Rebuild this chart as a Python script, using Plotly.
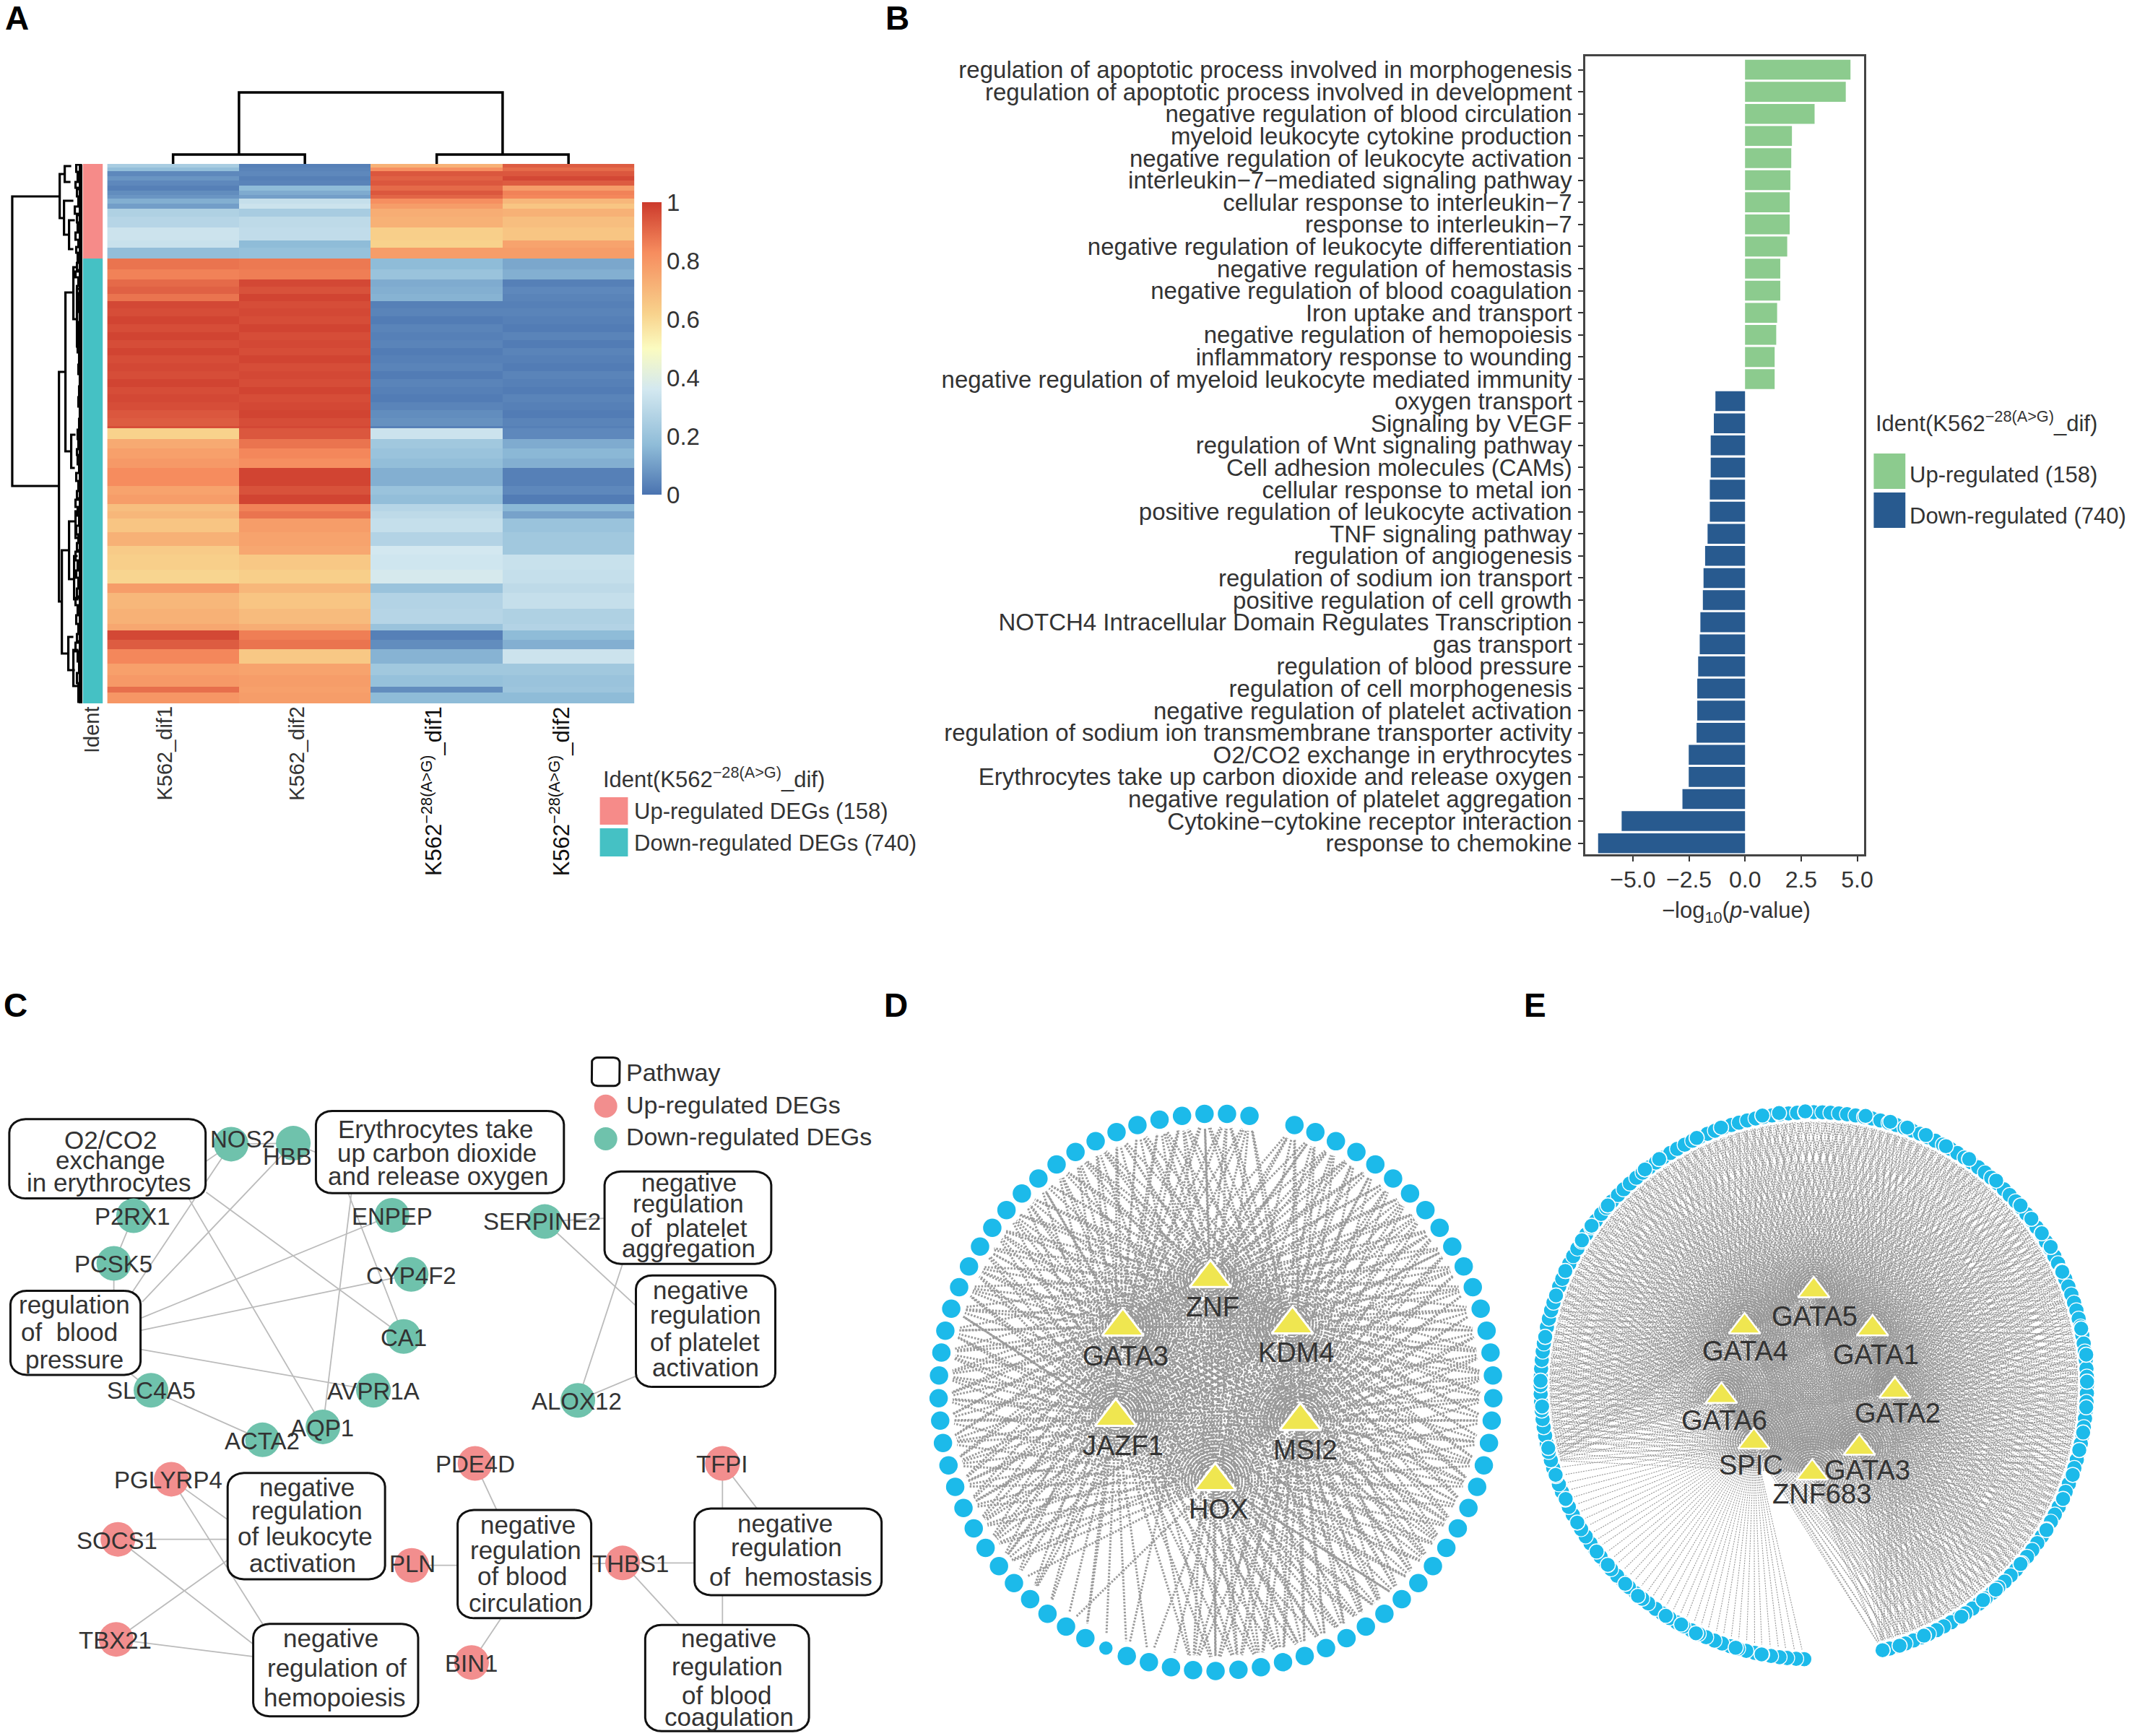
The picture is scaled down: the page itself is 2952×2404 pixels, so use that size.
import numpy as np
import plotly.graph_objects as go

W, H = 2952, 2404
FONT = "Liberation Sans"
TXT = "#333333"

# ---------- Panel A: heatmap ----------
SAMPLES = ["K562_dif1", "K562_dif2", "K562<sup>−28(A&gt;G)</sup>_dif1", "K562<sup>−28(A&gt;G)</sup>_dif2"]
HEAT_ROWS = [6,6,8,8,8,8,8,6,8,8,14,18,22,12,18,
             17,17,12,12,12,13,13,13,13,13,13,13,13,13,13,13,13,13,13,13,13,4,
             18,16,16,16,30,15,15,12,12,23,23,14,26,22,16,26,26,10,16,16,24,19,19,10,18]
HEAT_C1 = [.24,.18,.05,.08,.05,.03,.06,.08,.14,.10,.26,.28,.34,.33,.18,
           .88,.85,.90,.92,.88,.97,.96,.98,.96,.98,.96,.98,.96,.97,.96,.98,.96,.97,.96,.94,.93,.96,
           .62,.74,.77,.79,.83,.76,.78,.68,.70,.66,.72,.64,.63,.61,.78,.70,.72,.75,.97,.93,.84,.77,.79,.89,.80]
HEAT_C2 = [.03,.04,.05,.03,.04,.17,.13,.10,.32,.34,.24,.30,.31,.17,.19,
           .87,.86,.97,.95,.98,.96,.97,.96,.98,.96,.97,.96,.98,.96,.97,.96,.98,.96,.97,.98,.96,.97,
           .94,.88,.84,.82,.98,.95,.98,.85,.88,.78,.76,.75,.65,.63,.70,.66,.69,.73,.86,.88,.65,.76,.78,.77,.78]
HEAT_C3 = [.72,.82,.94,.92,.94,.90,.94,.91,.82,.78,.73,.72,.63,.62,.78,
           .17,.20,.13,.14,.15,.03,.04,.02,.04,.03,.04,.02,.03,.04,.02,.04,.03,.02,.04,.06,.07,.03,
           .34,.22,.20,.18,.14,.20,.18,.28,.30,.32,.27,.36,.35,.37,.20,.27,.28,.20,.03,.06,.15,.22,.19,.06,.17]
HEAT_C4 = [.93,.90,.94,.97,.93,.78,.85,.84,.70,.66,.72,.68,.66,.76,.78,
           .12,.14,.03,.05,.04,.03,.04,.03,.02,.04,.02,.04,.03,.02,.04,.03,.02,.04,.03,.02,.04,.03,
           .05,.13,.16,.14,.03,.05,.02,.16,.11,.20,.22,.22,.33,.32,.30,.32,.26,.27,.17,.14,.34,.22,.20,.21,.17]
HEAT_TICKS = [0, 0.2, 0.4, 0.6, 0.8, 1]
HEAT_TICK_LABELS = ["0", "0.2", "0.4", "0.6", "0.8", "1"]
HEAT_COLORS = [[0, "#4a73b0"], [.17, "#8fbcd8"], [.36, "#d3e8f0"], [.5, "#fbfbc0"],
               [.62, "#f8d28c"], [.83, "#f68c5e"], [1, "#cc3a2c"]]
IDENT_COUNTS = [158, 740]

# column dendrogram
COL_LEFT = [0.5, 2.5, 1.0]
COL_RIGHT = [1.5, 3.5, 3.0]
COL_H = [13, 13, 99]
COL_H_LEFT = [0, 0, 13]
COL_H_RIGHT = [0, 0, 13]

# row dendrogram: depth of parent, vertical span, depth of children
LINK_P = [15, 81, 88, 87, 94, 80, 89, 100, 105, 97, 84, 94, 93, 103, 101, 100]
LINK_T = [272, 241, 230, 278, 305, 515, 405, 370, 400, 602, 762, 722, 882, 708, 770, 900]
LINK_B = [673, 302, 252, 325, 345, 833, 625, 442, 480, 648, 905, 802, 928, 745, 830, 950]
LINK_C0 = [81, 88, 97, 100, 102, 89, 100, 106, 108, 103, 94, 103, 100, 108, 106, 107]
LINK_C1 = [80, 87, 96, 94, 100, 84, 97, 105, 108, 102, 93, 101, 102, 108, 107, 108]
COMB_X = [104,106,103,105,107,102,105,106,103,107,104,106,105,103,107,105,
          106,108,105,107,108,106,108,107,109,108,107,109,108,106,107,105,106,108,104,107,105,
          103,106,108,104,107,105,103,106,104,107,105,103,106,104,107,105,103,106,108,105,107]
COMB_T = [228,240,252,262,274,286,298,310,322,333,342,352,364,376,386,396,
          408,420,432,448,462,476,490,505,520,535,550,565,580,595,610,622,632,645,655,668,680,
          692,704,716,728,742,752,764,778,790,802,815,828,840,852,866,878,890,904,918,932,948]
COMB_B = [238,250,260,272,284,296,308,320,332,342,350,362,374,384,394,406,
          418,430,446,460,474,488,503,518,533,548,563,578,593,608,620,630,643,653,666,678,690,
          702,714,726,740,750,762,776,788,800,813,826,838,850,864,876,888,902,916,930,946,972]

# ---------- Panel B: enrichment bars ----------
TERMS_UP = ["regulation of apoptotic process involved in morphogenesis",
            "regulation of apoptotic process involved in development",
            "negative regulation of blood circulation", "myeloid leukocyte cytokine production",
            "negative regulation of leukocyte activation", "interleukin−7−mediated signaling pathway",
            "cellular response to interleukin−7", "response to interleukin−7",
            "negative regulation of leukocyte differentiation", "negative regulation of hemostasis",
            "negative regulation of blood coagulation", "Iron uptake and transport",
            "negative regulation of hemopoiesis", "inflammatory response to wounding",
            "negative regulation of myeloid leukocyte mediated immunity"]
VALUES_UP = [4.70, 4.49, 3.10, 2.09, 2.06, 2.02, 1.99, 1.99, 1.88, 1.57, 1.57, 1.43, 1.39, 1.32, 1.32]
TERMS_DOWN = ["oxygen transport", "Signaling by VEGF", "regulation of Wnt signaling pathway",
              "Cell adhesion molecules (CAMs)", "cellular response to metal ion",
              "positive regulation of leukocyte activation", "TNF signaling pathway",
              "regulation of angiogenesis", "regulation of sodium ion transport",
              "positive regulation of cell growth", "NOTCH4 Intracellular Domain Regulates Transcription",
              "gas transport", "regulation of blood pressure", "regulation of cell morphogenesis",
              "negative regulation of platelet activation",
              "regulation of sodium ion transmembrane transporter activity",
              "O2/CO2 exchange in erythrocytes", "Erythrocytes take up carbon dioxide and release oxygen",
              "negative regulation of platelet aggregation", "Cytokine−cytokine receptor interaction",
              "response to chemokine"]
VALUES_DOWN = [-1.32, -1.39, -1.53, -1.53, -1.57, -1.57, -1.67, -1.78, -1.85, -1.88, -1.99,
               -2.02, -2.09, -2.13, -2.13, -2.16, -2.51, -2.51, -2.79, -5.50, -6.55]
BAR_TICKS = [-5, -2.5, 0, 2.5, 5]
BAR_TICK_LABELS = ["−5.0", "−2.5", "0.0", "2.5", "5.0"]

# ---------- Panel C: network ----------
GREEN_NAMES = ["NOS2","HBB","P2RX1","PCSK5","ENPEP","CYP4F2","CA1","SERPINE2","SLC4A5","AVPR1A","AQP1","ACTA2","ALOX12"]
GREEN_X = [398,505,230,196,675,708,695,938,260,643,556,452,995]
GREEN_Y = [337,335,486,585,485,608,737,498,849,849,925,952,870]
GREEN_LX = [418,495,228,195,675,708,695,933,260,643,555,452,993]
GREEN_LY = [327,362,488,587,487,610,740,498,850,851,927,954,872]
RED_NAMES = ["PGLYRP4","SOCS1","TBX21","PDE4D","PLN","BIN1","THBS1","TFPI"]
RED_X = [295,203,200,818,709,812,1072,1244]
RED_Y = [1034,1159,1367,1001,1213,1415,1208,1001]
RED_LX = [290,202,198,818,710,812,1086,1243]
RED_LY = [1036,1161,1369,1003,1210,1417,1210,1003]
C_EDGE_X0 = [398,398,505,505,398,325,355,230,196,605,675,708,600,643,260,260,
             938,938,1072,995, 295,295,203,203,200,200, 818,709,812,1072,1072,1072,1244,1244]
C_EDGE_Y0 = [337,337,335,335,337,450,437,486,585,440,485,608,440,849,849,849,
             498,498,586,870, 1034,1034,1159,1159,1367,1367, 1001,1213,1415,1208,1208,1208,1001,1001]
C_EDGE_X1 = [340,225,245,560,505,556,695,196,196,556,200,200,695,200,200,452,
             1060,1110,995,1110, 400,460,400,450,400,450, 860,800,870,1010,1210,1180,1310,1244]
C_EDGE_Y1 = [385,650,665,362,335,925,737,585,660,925,720,735,737,755,790,952,
             490,690,870,812, 1125,1350,1159,1390,1195,1405, 1110,1213,1310,1210,1208,1350,1105,1350]
BOX_X0 = [16,544,18,1041,1095,392,436,788,1196,1111]
BOX_Y0 = [285,268,642,394,610,1021,1335,1098,1095,1337]
BOX_X1 = [354,971,242,1328,1335,663,720,1018,1518,1393]
BOX_Y1 = [450,439,817,586,842,1242,1527,1323,1275,1558]
BOX_TEXT = [["O2/CO2","exchange","in erythrocytes"],
            ["Erythrocytes take","up carbon dioxide","and release oxygen"],
            ["regulation","of  blood","pressure"],
            ["negative","regulation","of  platelet","aggregation"],
            ["negative","regulation","of platelet","activation"],
            ["negative","regulation","of leukocyte","activation"],
            ["negative","regulation of","hemopoiesis"],
            ["negative","regulation","of blood","circulation"],
            ["negative","regulation","of  hemostasis"],
            ["negative","regulation","of blood","coagulation"]]
BOX_TX = [[190,190,188],[750,752,755],[128,120,128],[1186,1185,1187,1186],[1206,1215,1214,1215],
          [529,529,525,521],[570,580,576],[909,905,900,905],[1352,1354,1362],[1255,1252,1252,1255]]
BOX_TY = [[328,370,417],[306,355,404],[670,728,785],[417,461,511,554],[641,692,749,801],
          [1051,1099,1153,1209],[1365,1426,1487],[1129,1182,1236,1291],[1125,1175,1237],[1365,1423,1483,1528]]

# ---------- Panel D: circular network ----------
D_NODE_X = [973,1026,1078,1130,1178,1223,1266,1305,1341,1373,1402,1425,1445,1460,1470,1476,1477,1473,1466,1453,
            1436,1414,1387,1358,1324,1287,1245,1201,1154,1105,1053,999,944,888,831,773,716,660,604,548,495,443,
            394,347,303,262,224,190,160,134,113,96,82,75,71,72,78,88,103,123,148,176,207,243,282,324,370,418,
            469,522,575,631,688,745,802,859]
D_NODE_Y = [101,118,140,166,196,230,266,306,349,394,442,492,544,597,650,705,760,814,868,922,
            974,1025,1074,1121,1165,1206,1245,1280,1311,1339,1363,1382,1397,1409,1415,1418,1416,1409,1397,1382,1363,1339,
            1311,1280,1245,1206,1165,1121,1074,1025,974,922,868,814,760,705,650,597,544,492,442,394,349,306,266,230,196,166,
            140,118,101,88,79,74,74,79]
D_TF = ["ZNF","GATA3","KDM4","JAZF1","MSI2","HOX"]
D_TF_X = [760,538,968,520,988,772]
D_TF_Y = [470,587,582,805,815,960]
D_LX = [766,545,978,538,1000,780]
D_LY = [540,658,650,875,885,1028]
D_SPARSE = {37:[5],38:[5,3],39:[3,0],40:[3],41:[3,1],42:[3,5],43:[3,1],44:[3,1,0],45:[3,1,5]}

# ---------- Panel E: circular network ----------
E_ANGLES = [182.0,183.7,185.6,187.2,189.0,190.9,192.5,194.3,196.1,197.8,199.6,201.3,203.2,204.9,206.6,208.5,210.1,211.9,213.7,215.4,
 217.3,218.9,220.7,222.6,224.2,226.0,227.9,229.5,231.3,233.2,234.8,236.6,238.4,240.1,241.9,243.7,245.4,247.2,248.9,250.7,252.5,
 254.2,256.0,257.8,259.5,261.3,263.0,264.8,266.6,268.3,270.1,271.9,273.6,275.4,277.2,278.9,280.7,282.4,284.2,286.0,287.7,289.5,
 291.3,293.0,294.8,296.5,298.3,300.1,301.8,303.6,305.4,307.1,308.9,310.6,312.4,314.2,315.9,317.7,319.5,321.2,323.0,324.7,326.5,
 328.3,330.0,331.8,333.6,335.3,337.1,338.8,340.6,342.4,344.1,345.9,347.7,349.4,351.2,352.9,354.7,356.5,358.2,360.0,361.8,363.5,
 365.3,367.0,368.8,370.6,372.3,374.1,375.9,377.6,379.4,381.1,382.9,384.7,386.4,388.2,390.0,391.7,393.5,395.2,397.0,398.8,400.5,
 402.3,404.1,405.8,407.6,409.3,411.1,412.9,414.6,416.4,418.2,419.9,421.7,423.4,425.2,427.0,428.7,430.5,432.3,434.0,435.8,437.5,
 439.3,441.1,442.8,444.6,446.4,448.1,449.9,451.6,453.4,455.2,456.9,458.7,460.5,462.2,464.0,465.7,467.5,469.3,471.0,472.8,474.6,
 476.3,478.1,479.8,481.6,483.4,485.1,486.9,488.7,490.4,492.2,493.9,495.7,497.5,499.2,501.0,502.8,504.5,506.3,508.0,509.8,511.6,
 513.3,515.1,516.9,518.6,520.4,522.1,523.9,525.4]
E_CENTER = (755, 730)
E_RADII = (707, 660)
E_FRONT_X = [933,977,1040,1137,1193,1226,1290,1357,1400,1425,1442,1452,1460,1462,1460,1447,1398,1368,1345,1318,1290,1227,1157,1097,
             1045,997,953,889,733,665,622,515,452,355,318,222,180,155,112,88,60,48,52,68,87,113,143,193,222,267,300,372,412,450,553,620]
E_FRONT_Y = [1368,1357,1333,1287,1247,1222,1160,1078,1003,945,885,843,782,720,655,592,455,395,362,327,295,235,183,152,
             125,107,93,79,68,72,78,107,132,183,208,295,344,379,453,512,612,718,780,880,945,1003,1060,1130,1162,1208,1237,1285,1306,1327,1362,1378]
E_TF = ["GATA5","GATA4","GATA1","GATA2","GATA6","SPIC","GATA3","ZNF683"]
E_TF_X = [755,576,907,965,516,600,873,751]
E_TF_Y = [500,587,592,742,755,865,880,940]
E_LX = [758,578,916,972,524,593,893,776]
E_LY = [562,647,655,797,813,922,933,992]
E_SINGLE_TF_LIMIT = 253   # degrees: nodes before this link to SPIC only
E_SINGLE_TF = 5

# ---------- helpers ----------
def dx(a, b): return [a / W, b / W]
def dy(a, b): return [1 - b / H, 1 - a / H]

fig = go.Figure()
ann = []

def note(x, y, text, size=32, color=TXT, xa="center", ya="middle", ax="x9", ay="y9", angle=0, bold=False):
    if bold:
        text = "<b>%s</b>" % text
    ann.append(dict(x=x, y=y, xref=ax, yref=ay, text=text, showarrow=False, xanchor=xa, yanchor=ya,
                    textangle=angle, font=dict(family=FONT, size=size, color=color)))

def rect(x0, y0, x1, y1, color):
    fig.add_trace(go.Scatter(x=[x0, x1, x1, x0, x0], y=[y0, y0, y1, y1, y0], mode="lines", fill="toself",
                             fillcolor=color, line=dict(width=0), xaxis="x9", yaxis="y9", hoverinfo="skip"))

def rounded(x0, y0, x1, y1, r=28):
    xs, ys = [], []
    for cx, cy, a0 in [(x1 - r, y0 + r, -90), (x1 - r, y1 - r, 0), (x0 + r, y1 - r, 90), (x0 + r, y0 + r, 180)]:
        t = np.radians(np.arange(a0, a0 + 91, 15))
        xs += list(cx + r * np.cos(t))
        ys += list(cy + r * np.sin(t))
    return xs + xs[:1], ys + ys[:1]

# ---------- Panel A traces ----------
z = np.repeat(np.array([HEAT_C1, HEAT_C2, HEAT_C3, HEAT_C4]).T, HEAT_ROWS, axis=0)
rows = np.arange(z.shape[0])
fig.add_trace(go.Heatmap(z=z, x=[0.5, 1.5, 2.5, 3.5], y=rows, zmin=0, zmax=1, colorscale=HEAT_COLORS,
                         xaxis="x", yaxis="y", hoverinfo="skip",
                         colorbar=dict(thickness=27, thicknessmode="pixels", len=405, lenmode="pixels",
                                       x=893 / W, xanchor="left", y=1 - 280 / H, yanchor="top", ypad=0, xpad=0,
                                       outlinewidth=0, ticks="", tickvals=HEAT_TICKS, ticktext=HEAT_TICK_LABELS,
                                       tickfont=dict(family=FONT, size=33, color=TXT))))
ident = np.repeat([0, 1], IDENT_COUNTS)[:, None]
fig.add_trace(go.Heatmap(z=ident, y=rows, x=[0], zmin=0, zmax=1, showscale=False,
                         colorscale=[[0, "#f68b89"], [1, "#45c1c4"]], xaxis="x2", yaxis="y2", hoverinfo="skip"))
xs, ys = [], []
for l, r, h, hl, hr in zip(COL_LEFT, COL_RIGHT, COL_H, COL_H_LEFT, COL_H_RIGHT):
    xs += [l, l, r, r, None]
    ys += [hl, h, h, hr, None]
fig.add_trace(go.Scatter(x=xs, y=ys, mode="lines", line=dict(color="black", width=3.5), xaxis="x3", yaxis="y3", hoverinfo="skip"))
xs, ys = [], []
for p, t, b, c0, c1 in zip(LINK_P, LINK_T, LINK_B, LINK_C0, LINK_C1):
    xs += [c0, p, p, c1, None]
    ys += [t, t, b, b, None]
for p, t, b in zip(COMB_X, COMB_T, COMB_B):
    xs += [112, p, p, 112, None]
    ys += [t, t, b, b, None]
fig.add_trace(go.Scatter(x=xs, y=ys, mode="lines", line=dict(color="black", width=3.2), xaxis="x4", yaxis="y4", hoverinfo="skip"))
fig.add_trace(go.Scatter(x=[110, 110], y=[228, 974], mode="lines", line=dict(color="black", width=5), xaxis="x4", yaxis="y4", hoverinfo="skip"))

# ---------- Panel B traces ----------
terms = TERMS_UP + TERMS_DOWN
fig.add_trace(go.Bar(y=TERMS_UP, x=VALUES_UP, orientation="h", width=0.9, marker=dict(color="#8ccb8e", line=dict(width=0)),
                     xaxis="x5", yaxis="y5", hoverinfo="skip"))
fig.add_trace(go.Bar(y=TERMS_DOWN, x=VALUES_DOWN, orientation="h", width=0.9, marker=dict(color="#285a8f", line=dict(width=0)),
                     xaxis="x5", yaxis="y5", hoverinfo="skip"))

# ---------- Panel C traces ----------
ex, ey = [], []
for a, b, c, d in zip(C_EDGE_X0, C_EDGE_Y0, C_EDGE_X1, C_EDGE_Y1):
    ex += [a, c, None]
    ey += [b, d, None]
fig.add_trace(go.Scatter(x=ex, y=ey, mode="lines", line=dict(color="#bbbbbb", width=1.8), xaxis="x6", yaxis="y6", hoverinfo="skip"))
for a, b, c, d in zip(BOX_X0, BOX_Y0, BOX_X1, BOX_Y1):
    px, py = rounded(a, b, c, d)
    fig.add_trace(go.Scatter(x=px, y=py, mode="lines", fill="toself", fillcolor="white",
                             line=dict(color="#111111", width=3), xaxis="x6", yaxis="y6", hoverinfo="skip"))
fig.add_trace(go.Scatter(x=GREEN_X, y=GREEN_Y, mode="markers", marker=dict(size=48, color="#6fc2ac"), xaxis="x6", yaxis="y6", hoverinfo="skip"))
fig.add_trace(go.Scatter(x=RED_X, y=RED_Y, mode="markers", marker=dict(size=48, color="#f28e8e"), xaxis="x6", yaxis="y6", hoverinfo="skip"))
for n, x, y in zip(GREEN_NAMES, GREEN_LX, GREEN_LY):
    note(x, y, n, size=33, ax="x6", ay="y6")
for n, x, y in zip(RED_NAMES, RED_LX, RED_LY):
    note(x, y, n, size=33, ax="x6", ay="y6")
for lines, tx, ty in zip(BOX_TEXT, BOX_TX, BOX_TY):
    for t, x, y in zip(lines, tx, ty):
        note(x, y, t, size=35, ax="x6", ay="y6")
px, py = rounded(1019, 157, 1067, 216, r=10)
fig.add_trace(go.Scatter(x=px, y=py, mode="lines", line=dict(color="#111111", width=3), xaxis="x6", yaxis="y6", hoverinfo="skip"))
fig.add_trace(go.Scatter(x=[1043], y=[258], mode="markers", marker=dict(size=32, color="#f28e8e"), xaxis="x6", yaxis="y6", hoverinfo="skip"))
fig.add_trace(go.Scatter(x=[1043], y=[326], mode="markers", marker=dict(size=32, color="#6fc2ac"), xaxis="x6", yaxis="y6", hoverinfo="skip"))
note(1076, 188, "Pathway", size=34, xa="left", ax="x6", ay="y6")
note(1076, 256, "Up-regulated DEGs", size=34, xa="left", ax="x6", ay="y6")
note(1076, 322, "Down-regulated DEGs", size=34, xa="left", ax="x6", ay="y6")

# ---------- Panel D traces ----------
ex, ey = [], []
for i, (nx, ny) in enumerate(zip(D_NODE_X, D_NODE_Y)):
    for j in D_SPARSE.get(i, range(6)):
        tx, ty = D_TF_X[j], D_TF_Y[j]
        L = np.hypot(nx - tx, ny - ty)
        f = 1 - 36 / L
        ex += [tx, round(tx + (nx - tx) * f, 1), None]
        ey += [ty, round(ty + (ny - ty) * f, 1), None]
fig.add_trace(go.Scatter(x=ex, y=ey, mode="lines", line=dict(color="#999999", width=3, dash="2.5px,2px"),
                         xaxis="x7", yaxis="y7", hoverinfo="skip"))
fig.add_trace(go.Scatter(x=D_NODE_X, y=D_NODE_Y, mode="markers",
                         marker=dict(size=[20 if i == 40 else 27 for i in range(len(D_NODE_X))], opacity=1, color="#1cbaea", line=dict(color="white", width=1.5)),
                         xaxis="x7", yaxis="y7", hoverinfo="skip"))
fig.add_trace(go.Scatter(x=D_TF_X, y=D_TF_Y, mode="markers",
                         marker=dict(symbol="triangle-up", size=50, color="#efe650", line=dict(color="white", width=3)),
                         xaxis="x7", yaxis="y7", hoverinfo="skip"))
for n, x, y in zip(D_TF, D_LX, D_LY):
    note(x, y, n, size=38, ax="x7", ay="y7")

# ---------- Panel E traces ----------
th = np.radians(E_ANGLES)
E_X = E_CENTER[0] + E_RADII[0] * np.sin(th)
E_Y = E_CENTER[1] - E_RADII[1] * np.cos(th)
ex, ey = [], []
for a, nx, ny in zip(E_ANGLES, E_X, E_Y):
    tfs = [E_SINGLE_TF] if a < E_SINGLE_TF_LIMIT else range(len(E_TF))
    for j in tfs:
        tx, ty = E_TF_X[j], E_TF_Y[j]
        L = np.hypot(nx - tx, ny - ty)
        f = 1 - 24 / L
        ex += [tx, round(tx + (nx - tx) * f, 1), None]
        ey += [ty, round(ty + (ny - ty) * f, 1), None]
fig.add_trace(go.Scatter(x=ex, y=ey, mode="lines", line=dict(color="#969696", width=1.1, dash="2px,1.5px"),
                         xaxis="x8", yaxis="y8", hoverinfo="skip"))
fig.add_trace(go.Scatter(x=E_X, y=E_Y, mode="markers", marker=dict(size=21, color="#1cbaea", line=dict(color="white", width=1.2)),
                         xaxis="x8", yaxis="y8", hoverinfo="skip"))
fig.add_trace(go.Scatter(x=E_FRONT_X, y=E_FRONT_Y, mode="markers", marker=dict(size=21, color="#1cbaea", line=dict(color="white", width=1.5)),
                         xaxis="x8", yaxis="y8", hoverinfo="skip"))
fig.add_trace(go.Scatter(x=E_TF_X, y=E_TF_Y, mode="markers",
                         marker=dict(symbol="triangle-up", size=38, color="#efe650", line=dict(color="white", width=2.5)),
                         xaxis="x8", yaxis="y8", hoverinfo="skip"))
for n, x, y in zip(E_TF, E_LX, E_LY):
    note(x, y, n, size=38, ax="x8", ay="y8")

# ---------- text & legends on full-figure layer ----------
for letter, x, y in [("A", 24, 25), ("B", 1248, 25), ("C", 22, 1392), ("D", 1246, 1392), ("E", 2134, 1392)]:
    note(x, y, letter, size=46, color="black", ax="x9", ay="y9", bold=True)
note(127, 976, "Ident", size=29, angle=-90, ya="top")
for x, lab, col, size in zip([228, 412, 600, 778], SAMPLES, [TXT, TXT, "#111111", "#111111"], [29, 29, 31, 31]):
    note(x, 976, lab, size=size, angle=-90, ya="top", color=col)
note(836, 1077, "Ident(K562<sup>−28(A&gt;G)</sup>_dif)", size=31, xa="left")
rect(834, 1104, 873, 1142, "#f68b89")
rect(834, 1147, 873, 1186, "#45c1c4")
note(880, 1123, "Up-regulated DEGs (158)", size=31, xa="left")
note(880, 1167, "Down-regulated DEGs (740)", size=31, xa="left")
note(2414, 1263, "−log<sub>10</sub>(<i>p</i>-value)", size=31)
note(2606, 584, "Ident(K562<sup>−28(A&gt;G)</sup>_dif)", size=31, xa="left")
rect(2605, 628, 2649, 677, "#8ccb8e")
rect(2605, 682, 2649, 731, "#285a8f")
note(2653, 657, "Up-regulated (158)", size=31, xa="left")
note(2653, 714, "Down-regulated (740)", size=31, xa="left")

# ---------- layout ----------
hidden = dict(visible=False, fixedrange=True)
zoom_range = [0, 1568]
layout = dict(
    width=W, height=H, margin=dict(l=0, r=0, t=0, b=0, pad=0), paper_bgcolor="white", plot_bgcolor="rgba(0,0,0,0)",
    showlegend=False, barmode="overlay", annotations=ann, font=dict(family=FONT, color=TXT),
    xaxis=dict(hidden, domain=dx(149, 882), range=[0, 4], anchor="y"),
    yaxis=dict(hidden, domain=dy(227, 974), range=[897.5, -0.5], anchor="x"),
    xaxis2=dict(hidden, domain=dx(115, 143), range=[-0.5, 0.5], anchor="y2"),
    yaxis2=dict(hidden, domain=dy(227, 974), range=[897.5, -0.5], anchor="x2"),
    xaxis3=dict(hidden, domain=dx(149, 882), range=[0, 4], anchor="y3"),
    yaxis3=dict(hidden, domain=dy(120, 227), range=[0, 107], anchor="x3"),
    xaxis4=dict(hidden, domain=dx(2, 115), range=[0, 113], anchor="y4"),
    yaxis4=dict(hidden, domain=dy(227, 974), range=[974, 227], anchor="x4"),
    xaxis5=dict(domain=dx(2204, 2592), range=[-7.12, 5.32], tickvals=BAR_TICKS, ticktext=BAR_TICK_LABELS, anchor="y5",
                ticks="outside", ticklen=7, tickwidth=2, tickcolor="#333333", showgrid=False, zeroline=False,
                showline=True, mirror=True, linecolor="#444444", linewidth=2.5, ticklabelstandoff=-2,
                tickfont=dict(family=FONT, size=32, color=TXT)),
    yaxis5=dict(domain=dy(78, 1183), range=[35.5, -0.605], type="category", categoryorder="array", categoryarray=terms,
                anchor="x5", ticks="outside", ticklen=7, tickwidth=2, tickcolor="#333333", showgrid=False, zeroline=False,
                showline=True, mirror=True, linecolor="#444444", linewidth=2.5, ticklabelstandoff=2,
                tickmode="array", tickvals=terms, ticktext=terms, automargin=False,
                tickfont=dict(family=FONT, size=33, color=TXT)),
    xaxis6=dict(hidden, domain=dx(0, 1266), range=zoom_range, anchor="y6"),
    yaxis6=dict(hidden, domain=dy(1360, 2404), range=zoom_range[::-1], anchor="x6"),
    xaxis7=dict(hidden, domain=dx(1266, 2126), range=zoom_range, anchor="y7"),
    yaxis7=dict(hidden, domain=dy(1500, 2400), range=zoom_range[::-1], anchor="x7"),
    xaxis8=dict(hidden, domain=dx(2116, 2952), range=[0, 1556], anchor="y8"),
    yaxis8=dict(hidden, domain=dy(1500, 2400), range=zoom_range[::-1], anchor="x8"),
    xaxis9=dict(hidden, domain=[0, 1], range=[0, W], anchor="y9"),
    yaxis9=dict(hidden, domain=[0, 1], range=[H, 0], anchor="x9"),
)
fig.update_layout(**layout)
fig.write_html("out.html", config={"displayModeBar": False},
               post_script="document.body.style.margin='0';document.documentElement.style.overflow='hidden';")
